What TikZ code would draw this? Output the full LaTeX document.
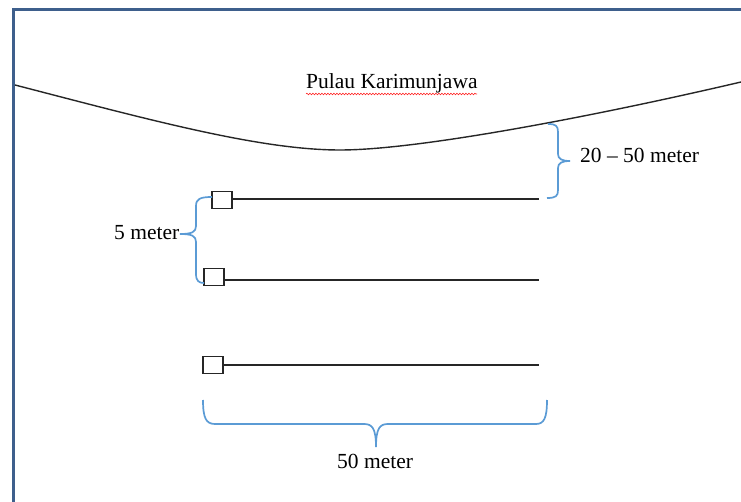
\documentclass[tikz,border=0pt]{standalone}
\usepackage{fontspec}
\setmainfont{Liberation Serif}
\usetikzlibrary{decorations.pathmorphing}
\definecolor{framecol}{HTML}{3E5F8C}
\definecolor{bracecol}{HTML}{5B9BD5}
\tikzset{
  framestyle/.style={draw=framecol,line width=3pt},
  shore/.style={draw=black!85,line width=1.4pt},
  rope/.style={draw=black!85,line width=1.5pt},
  buoy/.style={draw=black!85,line width=1.2pt,fill=white,minimum width=20pt,minimum height=17pt,inner sep=0pt},
  bracestyle/.style={draw=bracecol,line width=1.7pt},
  lbl/.style={font=\fontsize{21.5}{24}\selectfont,inner sep=0pt,anchor=base west},
  squiggle/.style={draw=red!85,line width=0.6pt,decorate,decoration={snake,amplitude=0.8pt,segment length=3pt}}
}
\begin{document}
\begin{tikzpicture}[x=1pt,y=-1pt]
\useasboundingbox (0,0) rectangle (741,502);
% frame
\draw[framestyle] (13,502) -- (13,10) -- (741,10);
% shoreline
\draw[shore] (15,85) .. controls (150,120) and (260,150) .. (340,150)
  .. controls (420,150) and (600,115) .. (741,82);
\node[lbl] (island) at (306,89) {Pulau Karimunjawa};
\draw[squiggle] (306,94) -- (477,94);
% ropes with buoys
\node[buoy] (b1) at (222,200) {};
\node[buoy] (b2) at (214,277) {};
\node[buoy] (b3) at (213,365) {};
\coordinate (e1) at (539,199);
\coordinate (e2) at (539,280);
\coordinate (e3) at (539,365);
\draw[rope] (b1.east |- e1) -- (e1);
\draw[rope] (b2.east |- e2) -- (e2);
\draw[rope] (b3.east |- e3) -- (e3);
% right brace 20-50 meter
\coordinate (rt) at (548,124);
\coordinate (rb) at (547,198);
\draw[bracestyle] (rt) .. controls (556,124) and (558,126) .. (558,132) -- (558,154)
  .. controls (558,159) and (562,161) .. (570,161)
  .. controls (562,161) and (558,163) .. (558,168) -- (558,190)
  .. controls (558,196) and (556,198) .. (rb);
\node[lbl] (d1) at (580,163) {20 -- 50 meter};
% left brace 5 meter
\coordinate (lt) at (212,197);
\coordinate (lb) at (204,283);
\draw[bracestyle] (lt) .. controls (200,197) and (196,199) .. (196,206) -- (196,226)
  .. controls (196,232) and (192,234) .. (180,234)
  .. controls (192,234) and (196,236) .. (196,242) -- (196,274)
  .. controls (196,281) and (199,283) .. (lb);
\node[lbl] (d2) at (114,240) {5 meter};
% bottom brace 50 meter
\coordinate (bl) at (203,400);
\coordinate (br) at (547,400);
\draw[bracestyle] (bl) .. controls (203,418) and (206,424) .. (215,424) -- (364,424)
  .. controls (372,424) and (376,428) .. (376,447)
  .. controls (376,428) and (380,424) .. (388,424) -- (536,424)
  .. controls (544,424) and (547,418) .. (br);
\node[lbl] (d3) at (337,468) {50 meter};
\end{tikzpicture}
\end{document}
